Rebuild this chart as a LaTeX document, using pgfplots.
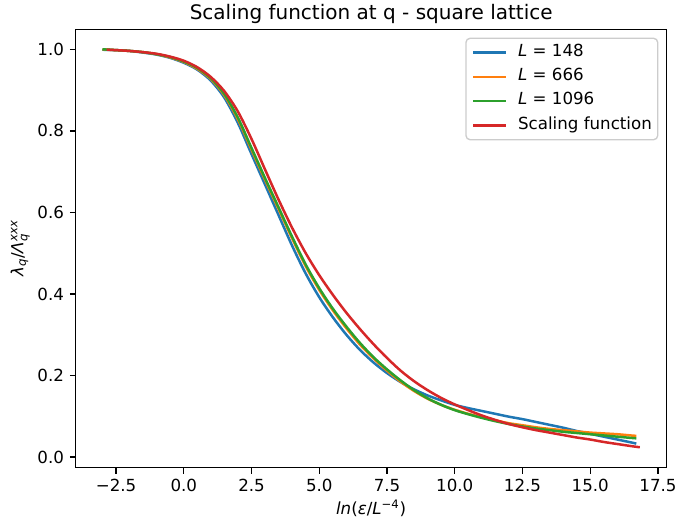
\documentclass[border=0pt]{standalone}
\usepackage{amsmath}
\usepackage{fontspec}
\setmainfont{DejaVu Sans}
\usepackage{pgfplots}
\pgfplotsset{compat=1.18}

\definecolor{c0}{HTML}{1F77B4}
\definecolor{c1}{HTML}{FF7F0E}
\definecolor{c2}{HTML}{2CA02C}
\definecolor{c3}{HTML}{D62728}

\begin{document}
\begin{tikzpicture}
\begin{axis}[
    name=main,
    scale only axis,
    width=354.6pt,
    height=263pt,
    xmin=-3.99, xmax=17.82,
    ymin=-0.026, ymax=1.049,
    xtick={-2.5,0,2.5,5,7.5,10,12.5,15,17.5},
    xticklabels={−2.5,0.0,2.5,5.0,7.5,10.0,12.5,15.0,17.5},
    ytick={0,0.2,0.4,0.6,0.8,1.0},
    yticklabels={0.0,0.2,0.4,0.6,0.8,1.0},
    tick pos=left,
    tick align=outside,
    major tick length=3.5pt,
    tick style={line width=0.8pt, black},
    axis line style={line width=0.8pt},
    tick label style={font=\fontsize{10}{12}\selectfont},
    label style={font=\fontsize{10}{12}\selectfont},
    title={Scaling function at q - square lattice},
    title style={at={(axis description cs:0.5,1)}, anchor=base, inner sep=0pt, font=\fontsize{12}{14}\selectfont},
    xlabel={\textit{ln}(\textit{ε}/\textit{L}$^{\text{−4}}$)},
    xlabel style={at={(axis description cs:0.5,-0.0722)}, anchor=north, inner sep=0pt},
    ylabel={\textit{λ}$_{\textit{q}}$/\textit{Λ}$_{\textit{q}}^{\textit{xxx}}$},
    ylabel style={at={(axis description cs:-0.077,0.5)}, anchor=south, inner sep=0pt},
    legend style={at={(1,1)}, anchor=north east, xshift=-5pt, yshift=-5pt,
        draw=white!80!black, line width=0.8pt, rounded corners=2.4pt,
        fill=white, fill opacity=0.8, text opacity=1, draw opacity=1,
        inner xsep=3.5pt, inner ysep=3.5pt, row sep=4.6pt,
        font=\fontsize{10}{12}\selectfont,
        nodes={inner sep=0pt, text height=7.3pt, text depth=2.7pt}},
    legend cell align=left,
    legend image code/.code={\draw[#1, line width=1.5pt] (0pt,0pt) -- (20pt,0pt); \path[draw=none, fill=none] (0pt,0pt) -- (27pt,0pt);},
    every axis plot/.append style={line width=1.5pt, smooth},
]

% L = 148
\addplot[c0] coordinates {
(-3,0.999) (-2.5,0.998) (-2,0.996) (-1.5,0.992) (-1,0.987) (-0.5,0.979)
(0,0.967) (0.5,0.950) (1,0.923) (1.5,0.881) (2,0.819) (2.5,0.743)
(3,0.668) (3.5,0.593) (4,0.518) (4.5,0.450) (5,0.392) (5.5,0.343)
(6,0.300) (6.5,0.263) (7,0.232) (7.5,0.206) (8,0.184) (8.5,0.166)
(9,0.151) (9.5,0.139) (10,0.128) (10.5,0.120) (11,0.113) (11.5,0.106)
(12,0.099) (12.5,0.093) (13,0.086) (13.5,0.079) (14,0.072) (14.5,0.064)
(15,0.057) (15.5,0.050) (16,0.043) (16.5,0.036) (16.7,0.033)
};

% L = 666
\addplot[c1] coordinates {
(-3,1.000) (-2.5,0.998) (-2,0.996) (-1.5,0.993) (-1,0.988) (-0.5,0.980)
(0,0.969) (0.5,0.952) (1,0.927) (1.5,0.887) (2,0.828) (2.5,0.754)
(3,0.680) (3.5,0.608) (4,0.536) (4.5,0.468) (5,0.410) (5.5,0.360)
(6,0.316) (6.5,0.276) (7,0.242) (7.5,0.212) (8,0.185) (8.5,0.162)
(9,0.143) (9.5,0.128) (10,0.116) (10.5,0.106) (11,0.098) (11.5,0.090)
(12,0.083) (12.5,0.078) (13,0.073) (13.5,0.069) (14,0.066) (14.5,0.063)
(15,0.060) (15.5,0.058) (16,0.056) (16.5,0.053) (16.7,0.052)
};

% L = 1096
\addplot[c2] coordinates {
(-3,1.000) (-2.5,0.998) (-2,0.996) (-1.5,0.993) (-1,0.988) (-0.5,0.981)
(0,0.970) (0.5,0.954) (1,0.929) (1.5,0.890) (2,0.832) (2.5,0.758)
(3,0.684) (3.5,0.612) (4,0.540) (4.5,0.472) (5,0.414) (5.5,0.364)
(6,0.320) (6.5,0.280) (7,0.245) (7.5,0.215) (8,0.188) (8.5,0.164)
(9,0.144) (9.5,0.128) (10,0.115) (10.5,0.105) (11,0.096) (11.5,0.088)
(12,0.081) (12.5,0.075) (13,0.070) (13.5,0.066) (14,0.062) (14.5,0.059)
(15,0.056) (15.5,0.053) (16,0.050) (16.5,0.047) (16.7,0.046)
};

% scaling function
\addplot[c3] coordinates {
(-2.85,0.999) (-2.5,0.998) (-2,0.996) (-1.5,0.993) (-1,0.989) (-0.5,0.982)
(0,0.972) (0.5,0.956) (1,0.932) (1.5,0.897) (2,0.847) (2.5,0.780)
(3,0.705) (3.5,0.631) (4,0.562) (4.5,0.500) (5,0.446) (5.5,0.398)
(6,0.354) (6.5,0.314) (7,0.277) (7.5,0.243) (8,0.212) (8.5,0.186)
(9,0.164) (9.5,0.145) (10,0.129) (10.5,0.115) (11,0.102) (11.5,0.091)
(12,0.081) (12.5,0.073) (13,0.066) (13.5,0.060) (14,0.054) (14.5,0.048)
(15,0.043) (15.5,0.037) (16,0.032) (16.5,0.027) (16.83,0.024)
};

\legend{\textit{L} = 148, \textit{L} = 666, \textit{L} = 1096, Scaling function}
\end{axis}
\pgfresetboundingbox
\path[use as bounding box] ([shift={(-45.4pt,-33.2pt)}]main.south west) rectangle ([shift={(6.8pt,17.6pt)}]main.north east);
\end{tikzpicture}
\end{document}
